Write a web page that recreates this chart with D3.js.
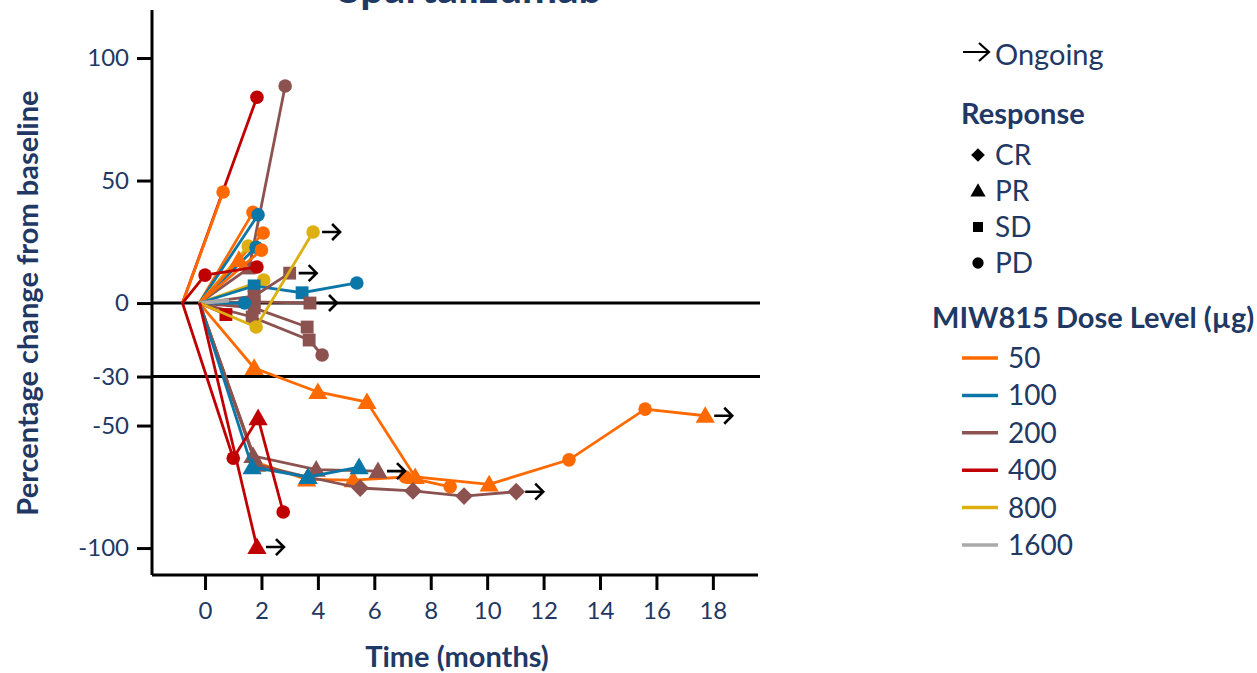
<!DOCTYPE html>
<html>
<head>
<meta charset="utf-8">
<script src="https://cdn.jsdelivr.net/npm/d3@7/dist/d3.min.js"></script>
<style>
  html, body { margin: 0; padding: 0; background: #fff; }
  svg { display: block; font-family: Lato, "Open Sans", sans-serif; }
</style>
</head>
<body>
<svg id="chart" width="1257" height="673"></svg>
<script>
// ---------- data ----------
const doseLevels = ["50", "100", "200", "400", "800", "1600"];
const doseColors = ["#FF6A00", "#0A77A8", "#8C5250", "#C00000", "#DDB010", "#AAAAAA"];
const responseTypes = ["CR", "PR", "SD", "PD"];
const xTickValues = [0, 2, 4, 6, 8, 10, 12, 14, 16, 18];
const yTickValues = [100, 50, 0, -30, -50, -100];
const refLines = [0, -30];

// one entry per patient: dose, time points (months), % change, response per point, ongoing
const p01 = { dose: "400", t: [-0.8, 1.84], v: [0, 84], r: ["", "PD"], on: false };
const p02 = { dose: "50", t: [-0.8, 0.64], v: [0, 45.3], r: ["", "PD"], on: false };
const p03 = { dose: "200", t: [-0.2, 1.56, 2.84], v: [0, 14.3, 88.6], r: ["", "SD", "PD"], on: false };
const p04 = { dose: "50", t: [-0.2, 1.7], v: [0, 37], r: ["", "PD"], on: false };
const p05 = { dose: "100", t: [-0.2, 1.88], v: [0, 36], r: ["", "PD"], on: false };
const p06 = { dose: "50", t: [-0.2, 2.06], v: [0, 28.6], r: ["", "PD"], on: false };
const p07 = { dose: "800", t: [-0.2, 1.53], v: [0, 23.3], r: ["", "PD"], on: false };
const p08 = { dose: "100", t: [-0.2, 1.81], v: [0, 22.8], r: ["", "PD"], on: false };
const p09 = { dose: "50", t: [-0.2, 2.0], v: [0, 21.6], r: ["", "PD"], on: false };
const p10 = { dose: "50", t: [-0.2, 1.2], v: [0, 17.6], r: ["", "PR"], on: false };
const p11 = { dose: "400", t: [-0.8, 0, 1.84], v: [0, 11.4, 14.7], r: ["", "PD", "PD"], on: false };
const p12 = { dose: "800", t: [-0.2, 2.08], v: [0, 9.4], r: ["", "PD"], on: false };
const p13 = { dose: "100", t: [-0.2, 1.74, 3.44, 5.38], v: [0, 7, 4.2, 8.2], r: ["", "SD", "SD", "PD"], on: false };
const p14 = { dose: "200", t: [-0.2, 1.74, 3.0], v: [0, 2.8, 12.2], r: ["", "SD", "SD"], on: true };
const p15 = { dose: "200", t: [-0.2, 1.74, 3.72], v: [0, 0.5, 0], r: ["", "SD", "SD"], on: true };
const p16 = { dose: "200", t: [-0.2, 1.74, 3.62], v: [0, -2, -9.8], r: ["", "SD", "SD"], on: false };
const p17 = { dose: "200", t: [-0.2, 1.67, 3.69, 4.15], v: [0, -5.7, -15.1, -21.2], r: ["", "SD", "SD", "PD"], on: false };
const p18 = { dose: "100", t: [-0.2, 1.4], v: [0, 0], r: ["", "PD"], on: false };
const p19 = { dose: "1600", t: [-0.2, 0.85], v: [0, 1], r: ["", ""], on: false };
const p20 = { dose: "400", t: [-0.2, 0.74], v: [0, -4.7], r: ["", "SD"], on: false };
const p21 = { dose: "800", t: [-0.2, 1.81, 3.83], v: [0, -9.8, 29], r: ["", "PD", "PD"], on: true };
const p22 = { dose: "50", t: [-0.2, 1.74, 4.0, 5.74, 7.45, 10.07, 12.9, 15.6, 17.73], v: [0, -26.5, -36.3, -40.4, -71, -74, -64, -43.3, -46], r: ["", "PR", "PR", "PR", "PR", "PR", "PD", "PD", "PR"], on: true };
const p23 = { dose: "50", t: [-0.2, 1.8, 3.6, 5.25, 7.1, 8.69], v: [0, -65, -72, -72.3, -71, -75], r: ["", "PR", "PR", "PR", "PD", "PD"], on: false };
const p24 = { dose: "200", t: [-0.2, 1.7, 3.94, 6.13], v: [0, -62.4, -68, -68.6], r: ["", "PR", "PR", "PR"], on: true };
const p25 = { dose: "200", t: [-0.2, 1.84, 3.65, 5.5, 7.37, 9.18, 11.03], v: [0, -66, -71, -75.5, -76.7, -78.8, -77], r: ["", "PR", "PR", "CR", "CR", "CR", "CR"], on: true };
const p26 = { dose: "100", t: [-0.2, 1.67, 3.65, 5.46], v: [0, -67, -71, -67], r: ["", "PR", "PR", "PR"], on: false };
const p27 = { dose: "400", t: [-0.8, 1.0, 1.88, 2.77], v: [0, -63.3, -47, -85.3], r: ["", "PD", "PR", "PD"], on: false };
const p28 = { dose: "400", t: [-0.2, 1.84], v: [0, -99.6], r: ["", "PR"], on: true };

const patients = [p01, p02, p03, p04, p05, p06, p07, p08, p09, p10, p11, p12, p13, p14, p15,
  p16, p17, p18, p19, p20, p21, p22, p23, p24, p25, p26, p27, p28];

// ---------- layout ----------
const navy = "#1F3864";
const svg = d3.select("#chart");
const x = d3.scaleLinear().domain([-1.88, 19.6]).range([152, 758]);
const y = d3.scaleLinear().domain([-111, 119.6]).range([575, 10]);
const color = d3.scaleOrdinal().domain(doseLevels).range(doseColors);
const shapeOf = { CR: d3.symbolDiamond2, PR: d3.symbolTriangle, SD: d3.symbolSquare, PD: d3.symbolCircle };

function symPath(r, size) {
  return d3.symbol(shapeOf[r], size)();
}

// title (partially cut at top, as in the reference)
svg.append("text").attr("x", 470).attr("y", 3).attr("text-anchor", "middle")
  .attr("font-size", 42).attr("font-weight", 700).attr("fill", navy).text("Spartalizumab");

// axes
const gy = svg.append("g").attr("transform", "translate(152,0)")
  .call(d3.axisLeft(y).tickValues(yTickValues).tickSize(15).tickPadding(8).tickFormat(d => String(d)));
const gx = svg.append("g").attr("transform", "translate(0,575)")
  .call(d3.axisBottom(x).tickValues(xTickValues).tickSize(15).tickPadding(12).tickFormat(d => String(d)));
[gx, gy].forEach(g => {
  g.select(".domain").attr("stroke", "#000").attr("stroke-width", 3);
  g.selectAll(".tick line").attr("stroke", "#000").attr("stroke-width", 3);
  g.selectAll(".tick text").attr("fill", navy).attr("font-size", 24).attr("font-family", "Lato, sans-serif");
});
gx.select(".domain").attr("d", "M152,0H758");
gy.select(".domain").attr("d", "M0,10V575");

// reference lines
svg.selectAll(".ref").data(refLines).join("line")
  .attr("x1", 152).attr("x2", 760).attr("y1", d => y(d)).attr("y2", d => y(d))
  .attr("stroke", "#000").attr("stroke-width", 3);

// axis titles
svg.append("text").attr("transform", `translate(38,${y(0)}) rotate(-90)`).attr("text-anchor", "middle")
  .attr("font-size", 29).attr("font-weight", 700).attr("fill", navy).text("Percentage change from baseline");
svg.append("text").attr("x", 457).attr("y", 667).attr("text-anchor", "middle")
  .attr("font-size", 29).attr("font-weight", 700).attr("fill", navy).text("Time (months)");

// patient lines + markers
const line = d3.line().x(d => x(d[0])).y(d => y(d[1]));
const arrowPath = (cx, cy) => `M${cx + 9},${cy}H${cx + 27}M${cx + 19},${cy - 8}L${cx + 27},${cy}L${cx + 19},${cy + 8}`;

patients.forEach(p => {
  const pts = p.t.map((t, i) => [t, p.v[i], p.r[i]]);
  const g = svg.append("g");
  g.append("path").attr("d", line(pts)).attr("fill", "none")
    .attr("stroke", color(p.dose)).attr("stroke-width", p.dose === "1600" ? 4 : 2.8);
  g.selectAll("path.m").data(pts.filter(d => d[2])).join("path").attr("class", "m")
    .attr("transform", d => `translate(${x(d[0])},${y(d[1]) + (d[2] === "PR" ? 1.5 : 0)})`)
    .attr("d", d => symPath(d[2], d[2] === "PD" ? 145 : d[2] === "SD" ? 165 : d[2] === "CR" ? 200 : 160))
    .attr("fill", color(p.dose));
  if (p.on) {
    const last = pts[pts.length - 1];
    g.append("path").attr("d", arrowPath(x(last[0]), y(last[1])))
      .attr("fill", "none").attr("stroke", "#000").attr("stroke-width", 2.6);
  }
});

// ---------- legend ----------
const lg = svg.append("g");
lg.append("path").attr("d", "M963,52H989M979,43L989,52L979,61").attr("fill", "none")
  .attr("stroke", "#000").attr("stroke-width", 2.2);
lg.append("text").attr("x", 995).attr("y", 65).attr("font-size", 29).attr("fill", navy).text("Ongoing");
lg.append("text").attr("x", 961).attr("y", 124).attr("font-size", 29).attr("font-weight", 700).attr("fill", navy).text("Response");
responseTypes.forEach((r, i) => {
  const cy = 155 + i * 36;
  lg.append("path").attr("transform", `translate(978,${cy + (r === "PR" ? 1 : 0)})`)
    .attr("d", symPath(r, r === "CR" ? 120 : 100)).attr("fill", "#000");
  lg.append("text").attr("x", 995).attr("y", cy + 10).attr("font-size", 28).attr("fill", navy).text(r);
});
lg.append("text").attr("x", 932).attr("y", 328).attr("font-size", 29).attr("font-weight", 700).attr("fill", navy).text("MIW815 Dose Level (µg)");
doseLevels.forEach((d, i) => {
  const cy = 358 + i * 37.4;
  lg.append("line").attr("x1", 962).attr("x2", 998).attr("y1", cy).attr("y2", cy)
    .attr("stroke", color(d)).attr("stroke-width", 3.5);
  lg.append("text").attr("x", 1008).attr("y", cy + 10).attr("font-size", 28).attr("fill", navy).text(d);
});
</script>
</body>
</html>
